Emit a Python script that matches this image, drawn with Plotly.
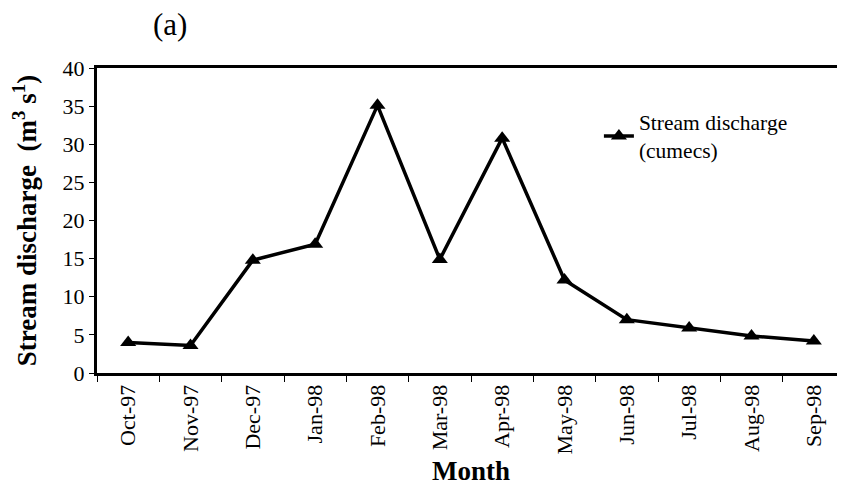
import plotly.graph_objects as go

months = ["Oct-97", "Nov-97", "Dec-97", "Jan-98", "Feb-98", "Mar-98",
          "Apr-98", "May-98", "Jun-98", "Jul-98", "Aug-98", "Sep-98"]
discharge = [4.0, 3.6, 14.8, 16.9, 35.1, 14.9, 30.8, 12.2, 7.0, 5.9, 4.85, 4.2]
y_ticks = [0, 5, 10, 15, 20, 25, 30, 35, 40]

serif = "Liberation Serif"

fig = go.Figure()
fig.add_trace(go.Scatter(
    x=months, y=discharge,
    mode="lines+markers",
    name="Stream discharge<br>(cumecs)",
    line=dict(color="black", width=3.5),
    marker=dict(symbol="triangle-up", size=14, color="black"),
))

# page body has an 8px margin, so the figure is sized/offset to compensate
fig.update_layout(
    width=837, height=478,
    margin=dict(l=89, r=0, t=60, b=113),
    paper_bgcolor="white", plot_bgcolor="white",
    font=dict(family=serif, color="black"),
    showlegend=True,
    legend=dict(x=0.671, y=0.89, xanchor="left", yanchor="top",
                font=dict(size=21.5, family=serif), bgcolor="rgba(0,0,0,0)"),
    xaxis=dict(
        type="category", categoryarray=months, range=[-0.5, 11.5],
        automargin=False,
        showline=True, linecolor="black", linewidth=3, mirror=True,
        ticks="outside", ticklen=6, tickwidth=1, tickcolor="black",
        tickson="boundaries", tickangle=-90,
        tickfont=dict(size=22, family=serif), showgrid=False,
        title=dict(text="<b>Month</b>", font=dict(size=27, family=serif),
                   standoff=18),
    ),
    xaxis2=dict(
        type="category", categoryarray=months, range=[-0.5, 11.5],
        overlaying="x", matches="x", side="bottom", automargin=False,
        ticks="inside", ticklen=5, tickwidth=1, tickcolor="black",
        tickson="boundaries", showticklabels=False, showgrid=False,
        showline=False,
    ),
    yaxis=dict(
        range=[0, 40], tickvals=y_ticks, automargin=False,
        showline=True, linecolor="black", linewidth=3,
        ticks="outside", ticklen=5, tickwidth=1, tickcolor="black",
        tickfont=dict(size=22, family=serif), showgrid=False, zeroline=False,
        title=dict(text="<b>Stream discharge  (m<sup>3</sup> s<sup>1</sup>)</b>",
                   font=dict(size=27, family=serif), standoff=31),
    ),
    yaxis2=dict(
        range=[0, 40], tickvals=y_ticks, overlaying="y", side="left",
        automargin=False,
        ticks="inside", ticklen=5, tickwidth=1, tickcolor="black",
        showticklabels=False, showgrid=False, zeroline=False, showline=False,
    ),
    annotations=[dict(
        text="(a)", xref="paper", yref="paper", x=0.097, y=1.141,
        xanchor="center", yanchor="middle", showarrow=False,
        font=dict(size=31, family=serif),
    )],
)

fig.write_html("out.html")
